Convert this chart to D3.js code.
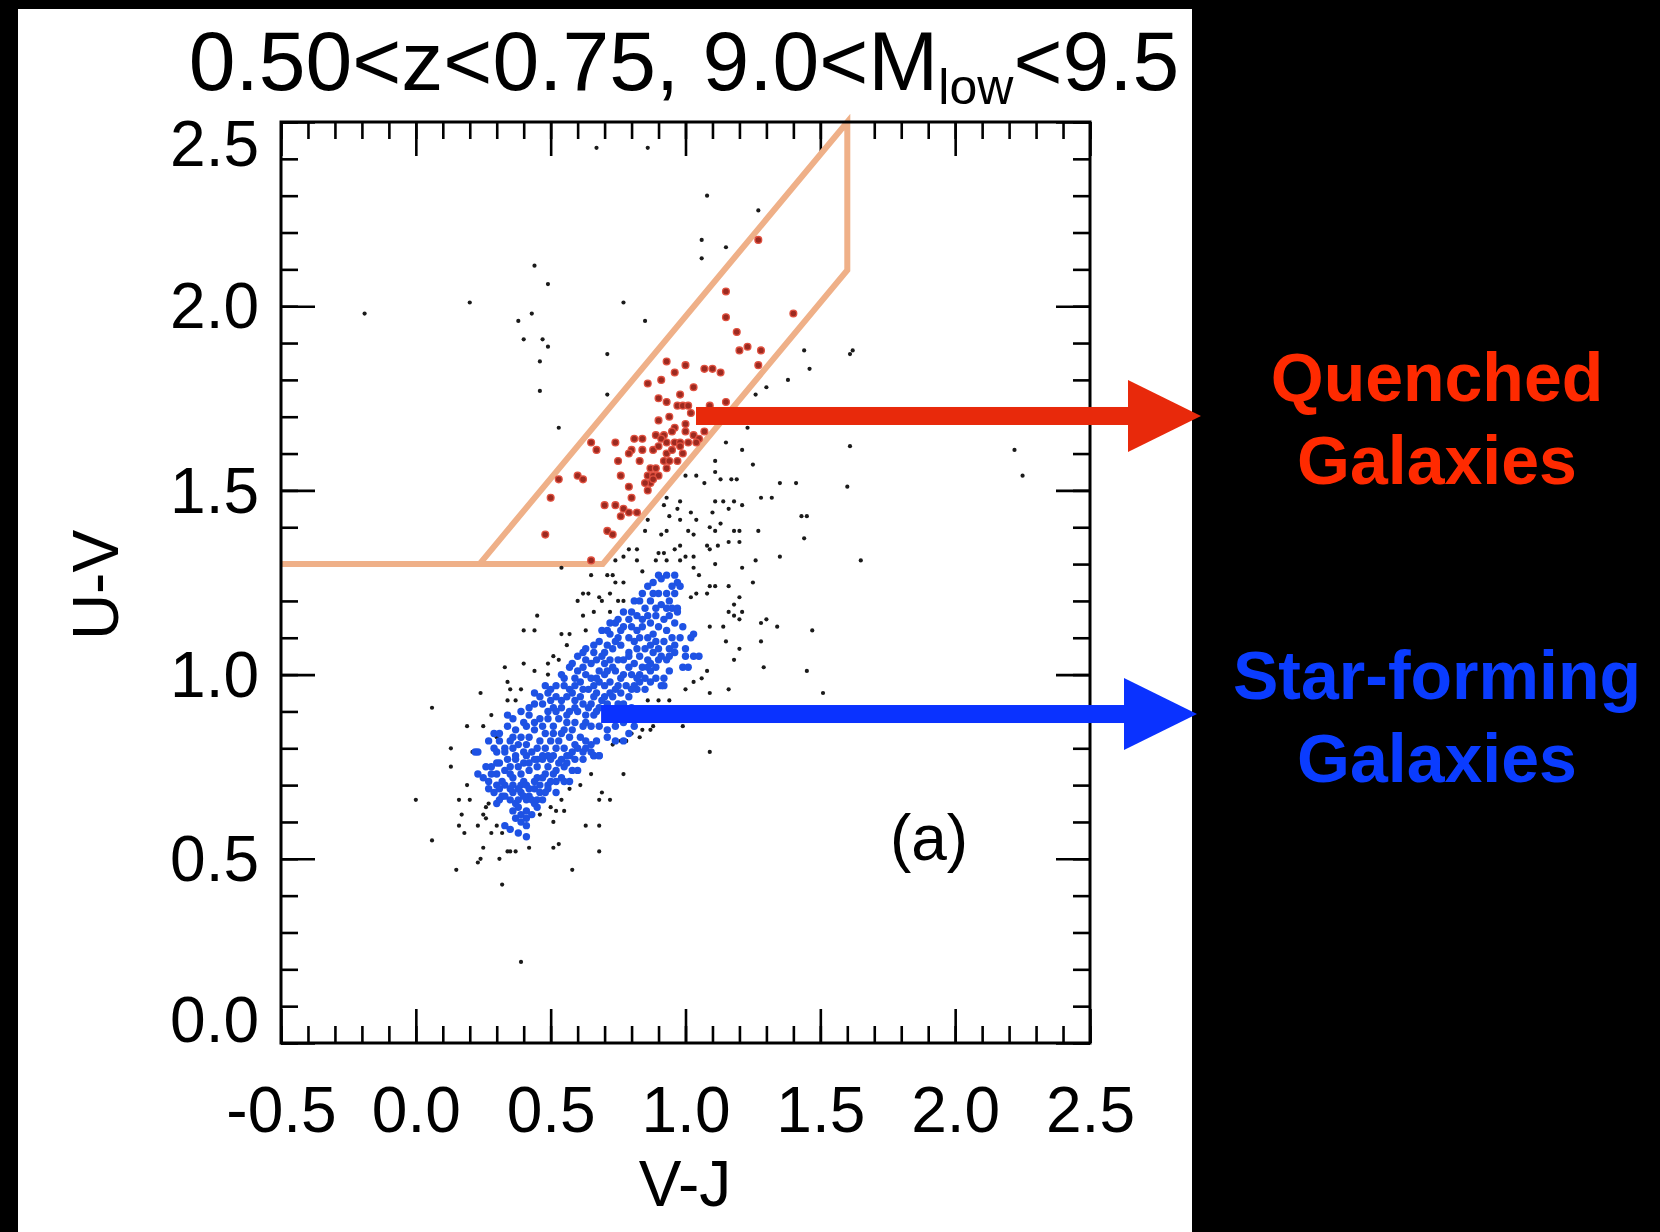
<!DOCTYPE html>
<meta charset="utf-8">
<head>
    <style>
        body {margin: 0; background: black;}
        text {font-family: 'Liberation Sans', Arial, Helvetica, sans-serif; fill: black;}
        .tick line {stroke: black; stroke-width: 2.6px;}
    </style>
    <script src="https://d3js.org/d3.v7.min.js"></script>
</head>
<body>
<script>

    // V-J, U-V
    var otherGalaxies = [
        [0.44,2.11],[0.49,2.06],[0.20,2.01],[0.43,1.98],[0.38,1.96],[0.40,1.91],[0.47,1.91],[0.49,1.89],[0.46,1.85],[0.46,1.77],
        [0.71,1.87],[0.77,2.01],[0.85,1.96],[1.06,2.13],[1.15,2.16],[0.71,1.76],[0.53,1.67],[1.44,1.88],[1.46,1.83],[1.38,1.80],
        [1.30,1.78],[1.26,1.76],[1.23,1.67],[1.15,1.63],[1.21,1.61],[1.25,1.57],[1.11,1.58],[1.11,1.55],[1.00,1.54],[1.04,1.54],
        [1.07,1.52],[1.13,1.53],[1.17,1.53],[1.19,1.53],[1.35,1.52],[1.41,1.52],[0.93,1.48],[0.98,1.47],[0.92,1.46],[0.97,1.45],
        [1.02,1.44],[1.11,1.47],[1.14,1.47],[1.18,1.47],[1.21,1.46],[1.16,1.45],[1.28,1.48],[1.32,1.48],[1.43,1.43],[1.45,1.43],
        [0.94,1.43],[0.98,1.42],[1.04,1.42],[1.10,1.44],[0.86,1.42],[0.91,1.38],[0.93,1.39],[1.01,1.39],[1.03,1.38],[1.09,1.40],
        [1.11,1.39],[1.13,1.41],[1.18,1.39],[1.20,1.39],[1.27,1.39],[1.44,1.37],[0.85,1.39],[0.79,1.34],[0.82,1.34],[0.90,1.33],
        [0.92,1.33],[0.96,1.34],[0.98,1.35],[1.00,1.32],[1.03,1.32],[1.08,1.35],[1.09,1.34],[1.12,1.35],[1.16,1.36],[1.20,1.36],
        [1.26,1.31],[1.35,1.32],[0.77,1.32],[0.74,1.31],[0.82,1.31],[0.89,1.31],[0.93,1.31],[0.98,1.31],[1.11,1.30],[1.21,1.29],
        [1.61,1.87],[1.62,1.88],[1.61,1.62],[2.22,1.61],[2.25,1.54],[1.60,1.51],[1.65,1.31],[1.30,1.15],[1.28,1.14],[1.34,1.13],
        [1.47,1.12],[1.28,1.09],[1.29,1.02],[1.45,1.01],[1.51,0.95],
        [0.67,2.43],[0.86,2.43],[1.08,2.30],[1.27,2.26],[1.06,2.18],[-0.19,1.98],
        [0.54,1.29],[0.65,1.27],[0.71,1.27],[0.73,1.27],[0.84,1.28],[0.74,1.25],[0.77,1.25],[0.60,1.20],[0.62,1.22],[0.64,1.22],
        [0.68,1.21],[0.69,1.20],[0.72,1.22],[0.75,1.20],[0.77,1.20],[0.45,1.16],[0.62,1.16],[0.66,1.17],[0.72,1.17],[0.40,1.12],
        [0.44,1.12],[0.54,1.11],[0.57,1.11],[0.56,1.08],[0.63,1.12],[0.33,1.02],[0.40,1.03],[0.44,1.01],[0.49,1.03],[0.51,1.05],
        [0.53,1.04],[0.49,1.00],[0.24,0.95],[0.35,0.96],[0.39,0.96],[0.34,0.98],[0.06,0.91],[0.28,0.89],[0.19,0.86],[0.25,0.86],
        [0.13,0.80],[0.21,0.79],[0.30,0.83],[0.37,0.93],[0.34,0.93],[1.03,1.29],[1.05,1.27],[1.25,1.25],[1.09,1.24],[1.11,1.24],
        [1.16,1.24],[1.20,1.21],[1.02,1.21],[1.04,1.22],[1.08,1.22],[1.18,1.19],[1.16,1.17],[1.18,1.16],[1.21,1.17],[1.20,1.15],
        [1.09,1.13],[1.14,1.13],[1.15,1.09],[1.20,1.07],[1.18,1.04],[1.08,1.01],[1.06,0.99],[1.03,0.98],[1.00,0.96],[1.09,0.95],
        [1.16,0.96],[0.86,0.93],[0.90,0.93],[0.94,0.93],[0.99,0.86],[0.88,0.86],[0.87,0.85],[0.84,0.85],[0.80,0.84],[0.76,0.82],
        [0.78,0.82],[1.09,0.79],[0.83,0.83],
        [0.13,0.75],[0.19,0.70],[0.00,0.66],[0.16,0.66],[0.20,0.66],[0.27,0.65],[0.26,0.64],[0.17,0.62],[0.25,0.62],[0.26,0.61],
        [0.23,0.59],[0.16,0.59],[0.18,0.57],[0.28,0.57],[0.30,0.59],[0.32,0.57],[0.06,0.55],[0.25,0.53],[0.23,0.49],[0.24,0.50],
        [0.31,0.50],[0.34,0.52],[0.35,0.52],[0.37,0.52],[0.15,0.47],[0.32,0.43],[0.42,0.53],[0.46,0.62],[0.51,0.60],[0.50,0.64],
        [0.52,0.63],[0.55,0.63],[0.54,0.66],[0.57,0.69],[0.61,0.70],[0.65,0.73],[0.69,0.68],[0.68,0.66],[0.72,0.66],[0.63,0.59],
        [0.68,0.59],[0.51,0.53],[0.53,0.54],[0.68,0.52],[0.58,0.47],[0.77,0.73],[0.73,0.81],[0.78,0.82],[0.39,0.22]
    ];

    var starForming = [
        [0.90,1.27],[0.93,1.27],[0.96,1.27],[0.91,1.26],[0.97,1.25],[0.86,1.24],[0.90,1.22],[0.88,1.22],[0.84,1.22],[0.93,1.22],
        [0.96,1.22],[0.94,1.20],[0.98,1.24],[0.81,1.20],[0.83,1.20],[0.87,1.20],[0.91,1.19],[0.95,1.18],[0.97,1.18],[0.97,1.17],
        [0.77,1.17],[0.80,1.17],[0.82,1.16],[0.86,1.16],[0.89,1.16],[0.94,1.16],[0.96,1.14],
        [0.72,1.14],[0.74,1.14],[0.77,1.13],[0.80,1.13],[0.84,1.13],[0.87,1.14],[0.90,1.13],[0.93,1.12],[1.03,1.11],[1.02,1.10],
        [0.69,1.12],[0.72,1.11],[0.75,1.10],[0.79,1.10],[0.83,1.10],[0.86,1.10],[0.89,1.09],[0.92,1.09],[0.96,1.08],[1.00,1.07],
        [0.68,1.09],[0.71,1.08],[0.73,1.07],[0.76,1.08],[0.79,1.06],[0.82,1.07],[0.85,1.07],[0.88,1.06],[0.91,1.05],[0.94,1.05],
        [1.00,1.05],[1.03,1.05],[1.05,1.05],
        [0.63,1.07],[0.66,1.06],[0.69,1.05],[0.72,1.04],[0.75,1.04],[0.77,1.04],[0.81,1.03],[0.84,1.02],[0.87,1.03],[0.90,1.04],
        [0.93,1.04],[0.99,1.02],[1.01,1.02],
        [0.60,1.05],[0.63,1.04],[0.65,1.03],[0.68,1.01],[0.71,1.01],[0.74,1.01],[0.77,1.00],[0.80,1.00],[0.83,1.00],[0.87,1.01],
        [0.89,1.02],[0.92,0.99],[0.91,0.97],
        [0.57,1.02],[0.60,1.01],[0.63,1.00],[0.65,0.99],[0.68,0.98],[0.72,0.98],[0.75,0.97],[0.78,0.97],[0.81,0.97],[0.83,0.98],
        [0.87,0.98],[0.92,0.97],
        [0.55,0.99],[0.52,0.97],[0.55,0.97],[0.59,0.97],[0.62,0.96],[0.64,0.96],[0.67,0.95],[0.70,0.94],[0.73,0.94],[0.76,0.95],
        [0.79,0.94],[0.82,0.96],
        [0.44,0.95],[0.48,0.97],[0.49,0.95],[0.52,0.94],[0.56,0.94],[0.59,0.93],[0.62,0.92],[0.65,0.92],[0.68,0.91],[0.71,0.92],
        [0.75,0.92],[0.77,0.92],[0.80,0.91],[0.81,0.88],
        [0.44,0.92],[0.47,0.92],[0.51,0.91],[0.54,0.91],[0.57,0.90],[0.60,0.90],[0.63,0.89],[0.66,0.89],
        [0.34,0.89],[0.39,0.90],[0.42,0.89],[0.46,0.88],[0.49,0.88],[0.53,0.88],[0.56,0.87],[0.59,0.87],[0.62,0.86],[0.65,0.86],
        [0.68,0.86],[0.71,0.85],[0.74,0.86],[0.77,0.87],[0.81,0.86],[0.79,0.84],
        [0.29,0.84],[0.34,0.86],[0.37,0.85],[0.41,0.86],[0.44,0.85],[0.48,0.84],[0.51,0.84],[0.54,0.84],[0.57,0.83],[0.61,0.83],
        [0.63,0.82],[0.67,0.82],[0.71,0.83],[0.74,0.82],[0.77,0.82],
        [0.27,0.82],[0.31,0.82],[0.35,0.82],[0.38,0.81],[0.41,0.81],[0.45,0.80],[0.48,0.80],[0.52,0.80],[0.55,0.80],[0.58,0.79],
        [0.62,0.79],[0.65,0.79],[0.68,0.78],
        [0.23,0.79],[0.30,0.79],[0.33,0.79],[0.37,0.78],[0.41,0.78],[0.45,0.77],[0.49,0.78],[0.54,0.77],[0.57,0.78],[0.66,0.78],
        [0.22,0.79],
        [0.28,0.75],[0.31,0.76],[0.34,0.77],[0.37,0.77],[0.40,0.76],[0.44,0.77],[0.47,0.77],[0.50,0.77],[0.53,0.76],[0.56,0.76],
        [0.59,0.77],[0.62,0.77],[0.66,0.78],[0.68,0.78],
        [0.23,0.73],[0.27,0.71],[0.30,0.73],[0.33,0.74],[0.36,0.72],[0.39,0.73],[0.42,0.74],[0.45,0.72],[0.48,0.73],[0.51,0.73],
        [0.54,0.72],[0.57,0.71],[0.60,0.74],
        [0.30,0.70],[0.33,0.70],[0.36,0.70],[0.39,0.70],[0.42,0.69],[0.46,0.70],[0.49,0.70],[0.52,0.71],[0.55,0.71],
        [0.29,0.68],[0.32,0.67],[0.36,0.68],[0.39,0.68],[0.42,0.67],[0.46,0.68],[0.49,0.69],[0.52,0.68],
        [0.30,0.65],[0.31,0.66],[0.35,0.66],[0.37,0.65],[0.41,0.66],[0.44,0.65],[0.47,0.66],
        [0.38,0.64],[0.41,0.63],[0.45,0.64],[0.39,0.62],[0.41,0.61],[0.39,0.60],[0.41,0.59],
        [0.33,0.59],[0.35,0.58],[0.38,0.57],[0.41,0.56],
        // second pass over the dense core
        [0.88,1.25],[0.95,1.24],[0.85,1.18],[0.89,1.18],[0.93,1.18],[0.75,1.15],[0.79,1.15],[0.84,1.15],[0.92,1.15],[0.99,1.13],
        [0.71,1.12],[0.76,1.12],[0.82,1.12],[0.88,1.11],[0.95,1.10],[0.98,1.10],[0.66,1.08],[0.74,1.09],[0.81,1.09],[0.87,1.08],
        [0.90,1.07],[0.94,1.07],[0.62,1.06],[0.67,1.04],[0.70,1.06],[0.79,1.05],[0.83,1.05],[0.86,1.04],[0.96,1.06],[0.58,1.03],
        [0.62,1.02],[0.70,1.03],[0.73,1.02],[0.79,1.02],[0.86,1.02],[0.94,1.01],[0.54,1.00],[0.59,0.99],[0.67,0.99],[0.70,1.00],
        [0.76,0.99],[0.82,0.99],[0.85,0.99],[0.89,0.99],[0.50,0.96],[0.57,0.96],[0.61,0.98],[0.66,0.97],[0.70,0.97],[0.74,0.96],
        [0.80,0.96],[0.85,0.96],[0.46,0.94],[0.50,0.93],[0.54,0.93],[0.58,0.95],[0.61,0.94],[0.66,0.94],[0.69,0.93],[0.72,0.95],
        [0.42,0.91],[0.49,0.90],[0.52,0.90],[0.56,0.89],[0.59,0.91],[0.64,0.91],[0.67,0.90],[0.36,0.88],[0.40,0.87],[0.44,0.87],
        [0.47,0.86],[0.51,0.86],[0.55,0.85],[0.58,0.85],[0.63,0.87],[0.31,0.84],[0.36,0.83],[0.39,0.83],[0.42,0.83],[0.46,0.82],
        [0.50,0.82],[0.53,0.82],[0.59,0.81],[0.65,0.81],[0.29,0.80],[0.33,0.80],[0.36,0.80],[0.40,0.79],[0.43,0.79],[0.47,0.78],
        [0.51,0.78],[0.56,0.78],[0.60,0.80],[0.63,0.80],[0.26,0.75],[0.30,0.76],[0.35,0.75],[0.38,0.75],[0.42,0.76],[0.45,0.75],
        [0.49,0.75],[0.52,0.74],[0.55,0.75],[0.58,0.74],[0.25,0.72],[0.28,0.73],[0.32,0.71],[0.35,0.73],[0.40,0.71],[0.44,0.71],
        [0.47,0.72],[0.50,0.71],[0.27,0.69],[0.31,0.69],[0.35,0.69],[0.38,0.69],[0.41,0.70],[0.44,0.69],[0.48,0.68],[0.33,0.67],
        [0.38,0.66],[0.40,0.67],[0.43,0.66],[0.45,0.66],[0.36,0.63],[0.43,0.62],[0.37,0.61]
    ];

    var quenched = [
        [1.27,2.18],[1.15,2.04],[1.15,1.97],[1.19,1.93],[1.20,1.88],[1.23,1.89],[1.28,1.88],[1.40,1.98],[1.27,1.84],[0.93,1.85],
        [0.96,1.82],[1.00,1.84],[1.07,1.83],[1.10,1.83],[1.13,1.82],[0.86,1.79],[0.91,1.80],[1.03,1.78],[0.90,1.75],[0.93,1.74],
        [0.98,1.76],[0.97,1.73],[0.99,1.73],[1.01,1.73],[1.02,1.71],[1.09,1.73],[1.15,1.74],[0.94,1.70],[0.90,1.69],[1.00,1.68],
        [0.96,1.67],[0.92,1.65],[0.95,1.66],[1.00,1.66],[1.03,1.65],[1.05,1.64],[1.07,1.66],[0.81,1.64],[0.84,1.64],[0.89,1.65],
        [0.91,1.64],[0.93,1.63],[0.96,1.63],[0.98,1.63],[1.01,1.63],[1.04,1.63],[0.65,1.63],[0.67,1.61],[0.74,1.63],[0.80,1.61],
        [0.84,1.61],[0.88,1.61],[0.90,1.62],[0.93,1.60],[0.95,1.61],[0.99,1.60],[0.98,1.62],[0.79,1.60],[0.75,1.58],[0.83,1.58],
        [0.92,1.58],[0.94,1.58],[0.97,1.58],[0.87,1.56],[0.89,1.56],[0.86,1.54],[0.88,1.54],[0.90,1.54],[0.93,1.56],[0.76,1.54],
        [0.53,1.53],[0.60,1.54],[0.62,1.53],[0.87,1.52],[0.88,1.53],[0.79,1.51],[0.85,1.52],[0.86,1.50],[0.80,1.48],[0.50,1.48],
        [0.70,1.46],[0.74,1.46],[0.77,1.45],[0.76,1.43],[0.79,1.44],[0.82,1.44],[0.48,1.38],[0.71,1.39],[0.73,1.38],[0.65,1.31]
    ];

    // selection box: U-V > 1.3, V-J < 1.6, between two parallel cuts
    var boxVJ = [-0.5, 0.693, 1.6, 1.6, 0.236];
    var boxUV = [1.3, 1.3, 2.098, 2.5, 1.3];

    var xMajor = [-0.5, 0.0, 0.5, 1.0, 1.5, 2.0, 2.5],
        yMajor = [0.0, 0.5, 1.0, 1.5, 2.0, 2.5];

    var width = 1660, height = 1232;

    var svg = d3.select("body").append("svg")
        .attr("width", width)
        .attr("height", height)

    svg.append("rect")
        .attr("x", 18).attr("y", 9)
        .attr("width", 1174).attr("height", height - 9)
        .attr("fill", "white")

    var x = d3.scaleLinear().domain([-0.5, 2.5]).range([281, 1090]);
    var y = d3.scaleLinear().domain([0, 2.5]).range([1043, 122]);

    var minorX = d3.range(-5, 26).map(function(d) {return d / 10}),
        minorY = d3.range(0, 26).map(function(d) {return d / 10});

    function drawAxis(axis, tx, ty) {
        var g = svg.append("g")
            .attr("transform", "translate(" + tx + "," + ty + ")")
            .call(axis)
        g.select(".domain").remove()
        g.selectAll("text").style("font-size", "64px").attr("fill", "black")
        return g;
    }

    // minor ticks on all four sides
    drawAxis(d3.axisBottom(x).tickValues(minorX).tickSize(-17).tickFormat(""), 0, 1043)
    drawAxis(d3.axisTop(x).tickValues(minorX).tickSize(-17).tickFormat(""), 0, 122)
    drawAxis(d3.axisLeft(y).tickValues(minorY).tickSize(-17).tickFormat(""), 281, 0)
    drawAxis(d3.axisRight(y).tickValues(minorY).tickSize(-17).tickFormat(""), 1090, 0)

    // major ticks
    drawAxis(d3.axisBottom(x).tickValues(xMajor).tickSize(-34).tickPadding(44).tickFormat(d3.format(".1f")), 0, 1043)
    drawAxis(d3.axisTop(x).tickValues(xMajor).tickSize(-34).tickFormat(""), 0, 122)
    var yAx = drawAxis(d3.axisLeft(y).tickValues(yMajor).tickSize(-34).tickPadding(22).tickFormat(d3.format(".1f")), 281, 0)
    drawAxis(d3.axisRight(y).tickValues(yMajor).tickSize(-34).tickFormat(""), 1090, 0)

    // end labels nudged inward like the original
    yAx.selectAll("text").attr("dy", function(d) {
        if (d == 2.5) return "0.68em";
        if (d == 0) return "-0.02em";
        return "0.34em";
    })

    svg.selectAll(".tick text").text(function() {
        return d3.select(this).text().replace("−", "-");
    })

    // selection box
    var line = d3.line()
        .x(function(d) {return x(d[0])})
        .y(function(d) {return y(d[1])})

    svg.append("path")
        .datum(boxVJ.map(function(d, i) {return [d, boxUV[i]]}))
        .attr("d", line)
        .attr("fill", "none")
        .attr("stroke", "#efb088")
        .attr("stroke-width", 6)
        .attr("stroke-linejoin", "miter")

    svg.append("g").selectAll("circle")
        .data(otherGalaxies)
      .enter().append("circle")
        .attr("cx", function(d) {return x(d[0])})
        .attr("cy", function(d) {return y(d[1])})
        .attr("r", 2.1)
        .attr("fill", "#1a1a1a")

    svg.append("g").selectAll("circle")
        .data(starForming)
      .enter().append("circle")
        .attr("cx", function(d) {return x(d[0])})
        .attr("cy", function(d) {return y(d[1])})
        .attr("r", 3.7)
        .attr("fill", "#1e52e4")

    svg.append("g").selectAll("circle")
        .data(quenched)
      .enter().append("circle")
        .attr("cx", function(d) {return x(d[0])})
        .attr("cy", function(d) {return y(d[1])})
        .attr("r", 3.4)
        .attr("fill", "#9c2a20")
        .attr("stroke", "#e0503f")
        .attr("stroke-width", 1.3)

    // frame
    svg.append("rect")
        .attr("x", 281).attr("y", 122)
        .attr("width", 1090 - 281).attr("height", 1043 - 122)
        .attr("fill", "none")
        .attr("stroke", "black")
        .attr("stroke-width", 3)

    // title
    var title = svg.append("text")
        .attr("x", 684).attr("y", 90)
        .attr("text-anchor", "middle")
        .style("font-size", "84px")
    title.append("tspan").text("0.50<z<0.75, 9.0<M")
    title.append("tspan").attr("dy", 14).style("font-size", "50px").text("low")
    title.append("tspan").attr("dy", -14).text("<9.5")

    svg.append("text")
        .attr("x", 685).attr("y", 1206)
        .attr("text-anchor", "middle")
        .style("font-size", "64px")
        .text("V-J")

    svg.append("text")
        .attr("transform", "translate(118,585) rotate(-90)")
        .attr("text-anchor", "middle")
        .style("font-size", "64px")
        .text("U-V")

    svg.append("text")
        .attr("x", 929).attr("y", 860)
        .attr("text-anchor", "middle")
        .style("font-size", "64px")
        .text("(a)")

    // arrows pointing from the populations to the labels
    var arrows = [
        {from: [1.039, 1.702], end: 1201, color: "#e8290b", text: ["Quenched", "Galaxies"], textColor: "#ff2a00", ty: 401},
        {from: [0.687, 0.893], end: 1197, color: "#0a32ff", text: ["Star-forming", "Galaxies"], textColor: "#0a3cff", ty: 699}
    ];

    arrows.forEach(function(a) {
        var x0 = x(a.from[0]), y0 = y(a.from[1]), head = 73;
        svg.append("rect")
            .attr("x", x0).attr("y", y0 - 9)
            .attr("width", a.end - head - x0 + 2).attr("height", 18)
            .attr("fill", a.color)
        svg.append("path")
            .attr("d", "M" + (a.end - head) + "," + (y0 - 36) + "L" + a.end + "," + y0 + "L" + (a.end - head) + "," + (y0 + 36) + "Z")
            .attr("fill", a.color)
        a.text.forEach(function(t, i) {
            svg.append("text")
                .attr("x", 1437).attr("y", a.ty + i * 83)
                .attr("text-anchor", "middle")
                .style("font-size", "68px")
                .style("font-weight", "bold")
                .style("fill", a.textColor)
                .text(t)
        })
    })

</script>
</body>
